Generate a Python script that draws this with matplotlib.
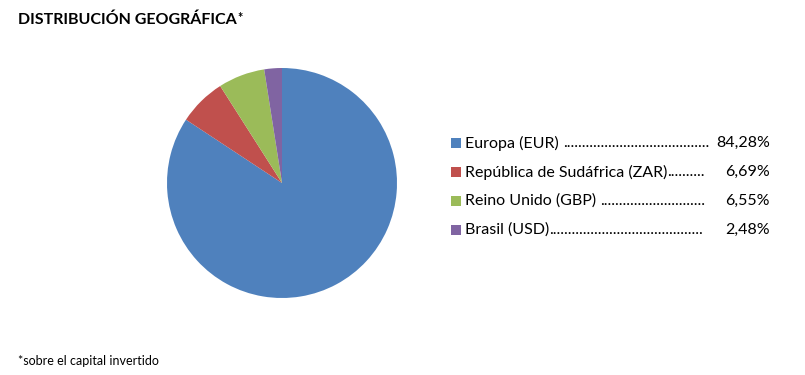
import matplotlib
matplotlib.use("Agg")
import matplotlib.pyplot as plt

plt.rcParams['font.family'] = ['Lato', 'DejaVu Sans']

# Data
labels = ["Europa (EUR)", "República de Sudáfrica (ZAR)", "Reino Unido (GBP)", "Brasil (USD)"]
values = [84.28, 6.69, 6.55, 2.48]
value_texts = ["84,28%", "6,69%", "6,55%", "2,48%"]
colors = ["#4F81BD", "#C0504D", "#9BBB59", "#8064A2"]

W, H = 805, 375
fig = plt.figure(figsize=(W / 100, H / 100), dpi=100)

# Pie, centre ~(282,183), radius ~115 px
cx, cy, r = 282, 183, 115
ax = fig.add_axes([(cx - r) / W, (H - cy - r) / H, 2 * r / W, 2 * r / H])
ax.pie(values, colors=colors, startangle=90, counterclock=False, radius=1,
       wedgeprops=dict(linewidth=0))
ax.set_xlim(-1, 1)
ax.set_ylim(-1, 1)
ax.set_aspect('equal')

fig.canvas.draw()
renderer = fig.canvas.get_renderer()

# Title and footnote
title = fig.text(18 / W, 1 - 20 / H, "DISTRIBUCIÓN GEOGRÁFICA", fontsize=11.5,
                 fontweight='bold', va='center', ha='left')
tx = title.get_window_extent(renderer).x1
fig.text((tx + 1) / W, 1 - 18 / H, "*", fontsize=9, fontweight='bold', va='center', ha='left')
fig.text(18 / W, 1 - 361 / H, "*sobre el capital invertido", fontsize=9, va='center', ha='left')

# Legend drawn by hand with dotted leaders
row_y = [143, 172, 201, 230]
dot_end = [708, 703, 703, 703]
for lab, vt, col, y, de in zip(labels, value_texts, colors, row_y, dot_end):
    yf = 1 - y / H
    fig.patches.append(plt.Rectangle((451 / W, 1 - (y + 5) / H), 10 / W, 10 / H,
                                     transform=fig.transFigure, facecolor=col,
                                     edgecolor='none'))
    t = fig.text(465 / W, yf, lab, fontsize=11.5, va='center', ha='left')
    bb = t.get_window_extent(renderer)
    start = bb.x1 + (4 if lab.startswith("Europa") or lab.startswith("Reino") else 0)
    dots = "."
    d = fig.text(start / W, yf, dots, fontsize=11.5, va='center', ha='left')
    while d.get_window_extent(renderer).x1 < de:
        dots += "."
        d.set_text(dots)
    fig.text(770 / W, yf, vt, fontsize=11.5, va='center', ha='right')

fig.savefig("out.png", dpi=100, facecolor='white')
